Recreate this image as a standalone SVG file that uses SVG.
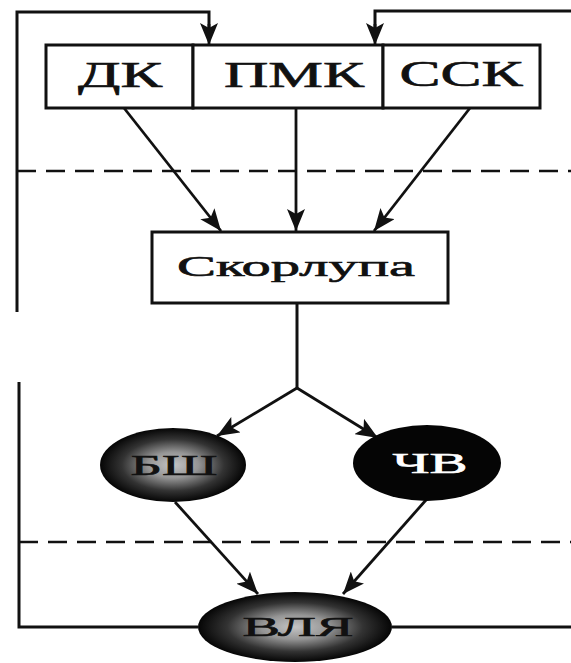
<svg xmlns="http://www.w3.org/2000/svg" width="571" height="663" viewBox="0 0 571 663">
<style>
.box{fill:#fff;stroke:#111;stroke-width:3}
.ln{fill:none;stroke:#111;stroke-width:3}
.ar{fill:none;stroke:#111;stroke-width:2.8;marker-end:url(#ah)}
.dash{fill:none;stroke:#111;stroke-width:2.5;stroke-dasharray:19 10}
.t{font-family:"Liberation Serif","Times New Roman",serif;fill:#111;stroke:#111;stroke-width:0.6;text-anchor:middle}
.tw{font-family:"Liberation Serif","Times New Roman",serif;fill:#fff;stroke:#fff;stroke-width:0.6;text-anchor:middle}
</style>
<defs>
<marker id="ah" viewBox="0 0 22 18" refX="22" refY="9" markerWidth="22" markerHeight="18" markerUnits="userSpaceOnUse" orient="auto">
<path d="M0,0 L22,9 L0,18 L5,9 Z" fill="#111"/>
</marker>
<radialGradient id="glow" cx="50%" cy="50%" r="50%">
<stop offset="0%" stop-color="#c4c4c4"/>
<stop offset="35%" stop-color="#959595"/>
<stop offset="70%" stop-color="#333"/>
<stop offset="100%" stop-color="#050505"/>
</radialGradient>
</defs>
<rect width="571" height="663" fill="#fff"/>
<g id="connectors">
<path class="ln" d="M17,312 L17,12 L209,12 L209,30"/>
<path class="ar" d="M209,24 L209,45"/>
<path class="ln" d="M571,11 L375,11 L375,30"/>
<path class="ar" d="M375,24 L375,45"/>
<path class="ln" d="M19,382 L19,627 L198,627"/>
<path class="ln" d="M392,627 L571,627"/>
<path class="dash" d="M17,171 L571,171"/>
<path class="dash" d="M19,542 L571,542"/>
<path class="ar" d="M124,108 L221,231"/>
<path class="ar" d="M296,108 L296,231"/>
<path class="ar" d="M470,108 L374,231"/>
<path class="ln" d="M297,303 L297,388"/>
<path class="ar" d="M297,388 L217,436"/>
<path class="ar" d="M297,388 L378,438"/>
<path class="ar" d="M175,502 L258,594"/>
<path class="ar" d="M426,500 L343,594"/>
</g>
<g id="node-dk">
<rect class="box" x="46" y="45" width="147" height="63"/>
<text class="t" x="120" y="87" font-size="35" textLength="84" lengthAdjust="spacingAndGlyphs">ДК</text>
</g>
<g id="node-pmk">
<rect class="box" x="193" y="45" width="190" height="63"/>
<text class="t" x="294" y="87" font-size="35" textLength="140" lengthAdjust="spacingAndGlyphs">ПМК</text>
</g>
<g id="node-ssk">
<rect class="box" x="383" y="45" width="157" height="63"/>
<text class="t" x="461" y="86" font-size="35" textLength="123" lengthAdjust="spacingAndGlyphs">ССК</text>
</g>
<g id="node-skorlupa">
<rect class="box" x="152" y="232" width="296" height="71"/>
<text class="t" x="296" y="276" font-size="29" textLength="238" lengthAdjust="spacingAndGlyphs">Скорлупа</text>
</g>
<g id="node-bsh">
<ellipse cx="173" cy="465" rx="73" ry="37" fill="url(#glow)"/>
<text class="t" x="174" y="475" font-size="30" textLength="87" lengthAdjust="spacingAndGlyphs">БШ</text>
</g>
<g id="node-chv">
<ellipse cx="427" cy="463" rx="74" ry="38" fill="#050505"/>
<text class="tw" x="430" y="473" font-size="30" textLength="75" lengthAdjust="spacingAndGlyphs">ЧВ</text>
</g>
<g id="node-vlya">
<ellipse cx="295" cy="627" rx="97" ry="35" fill="url(#glow)"/>
<text class="t" x="298" y="636" font-size="27" textLength="111" lengthAdjust="spacingAndGlyphs">ВЛЯ</text>
</g>
</svg>
